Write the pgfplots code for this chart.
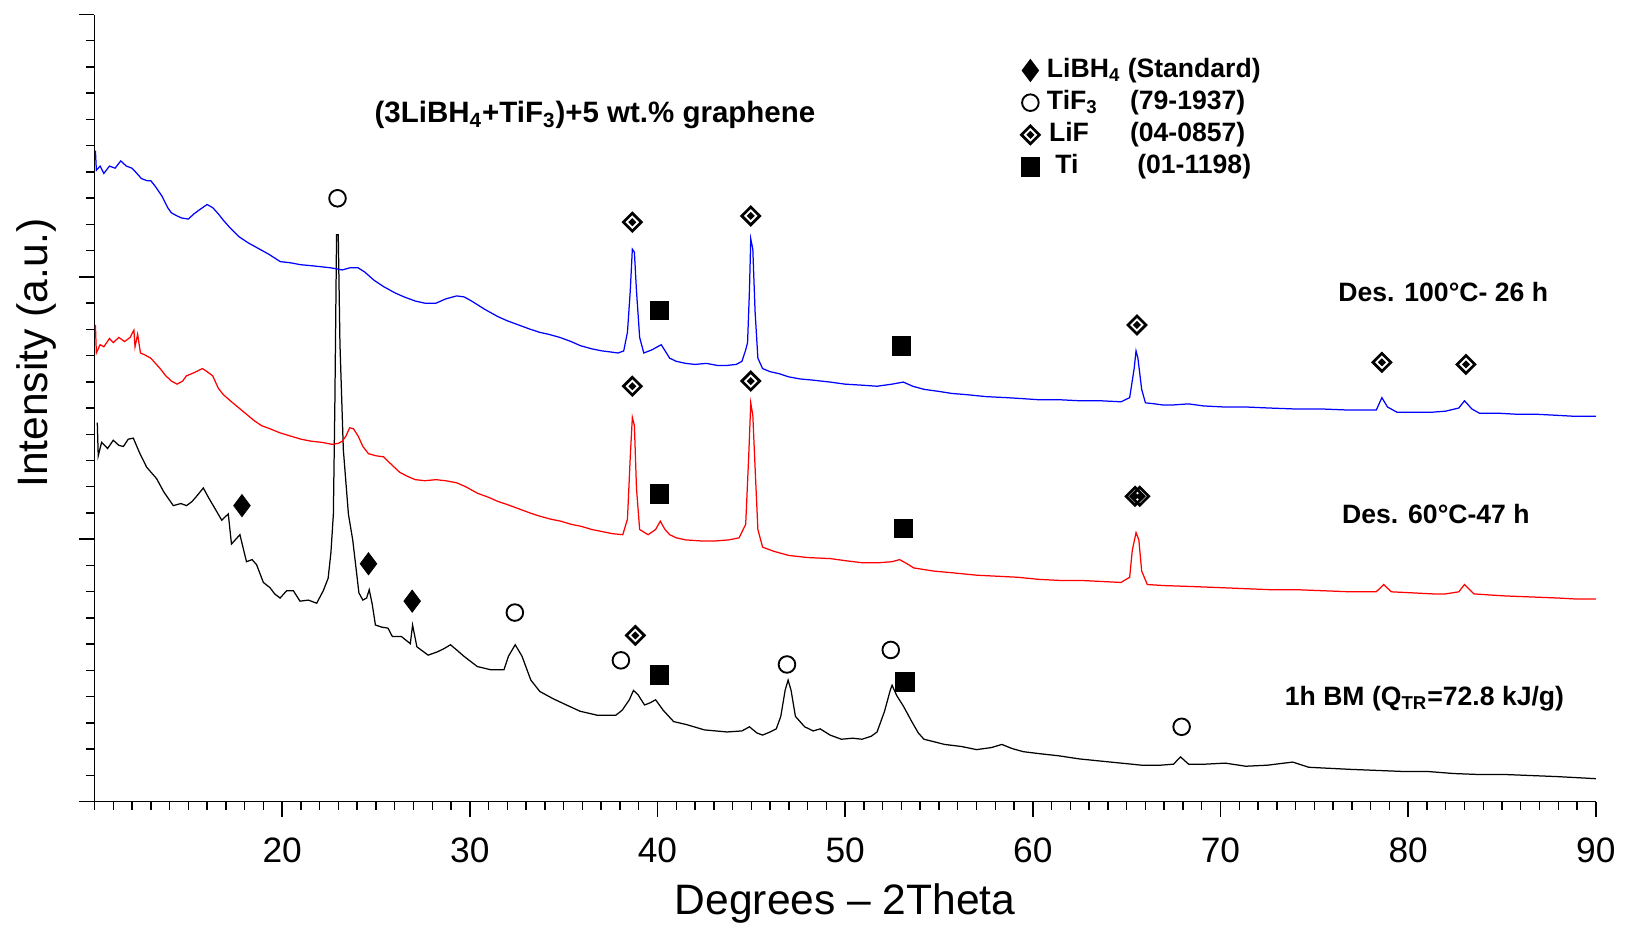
\documentclass[border=0pt]{standalone}
\usepackage{fontspec}
\setmainfont{Liberation Sans}
\usepackage{pgfplots}
\pgfplotsset{compat=1.18}
\pgfdeclareplotmark{lif}{%
  \pgfpathmoveto{\pgfqpoint{0pt}{\pgfplotmarksize}}%
  \pgfpathlineto{\pgfqpoint{\pgfplotmarksize}{0pt}}%
  \pgfpathlineto{\pgfqpoint{0pt}{-\pgfplotmarksize}}%
  \pgfpathlineto{\pgfqpoint{-\pgfplotmarksize}{0pt}}%
  \pgfpathclose
  \pgfusepathqstroke
  \pgfpathmoveto{\pgfqpoint{0pt}{0.45\pgfplotmarksize}}%
  \pgfpathlineto{\pgfqpoint{0.45\pgfplotmarksize}{0pt}}%
  \pgfpathlineto{\pgfqpoint{0pt}{-0.45\pgfplotmarksize}}%
  \pgfpathlineto{\pgfqpoint{-0.45\pgfplotmarksize}{0pt}}%
  \pgfpathclose
  \pgfusepathqfill
}
\pgfplotsset{lgmark/.style={legend image code/.code={\draw[##1] plot coordinates {(0cm,0cm)};}}}
\begin{document}
\begin{tikzpicture}
\begin{axis}[name=ax, scale only axis, width=723pt, height=379pt,
  xmin=10, xmax=90, ymin=0, ymax=758,
  axis lines*=left, tick align=outside,
  xtick={20,30,...,90}, minor xtick={10,11,...,90},
  ytick={0,252.667,505.333,758}, minor ytick={0,25.2667,...,758}, yticklabels={},
  major tick length=7.5pt, minor tick length=4pt,
  tick style={black, line width=0.7pt},
  axis line style={black, line width=0.8pt},
  ticklabel style={font=\fontsize{17}{17}\selectfont},
  /pgf/number format/assume math mode=true,
  xticklabel style={yshift=-6.5pt},
  xlabel={Degrees – 2Theta}, ylabel={Intensity (a.u.)},
  label style={font=\fontsize{20.5}{20.5}\selectfont},
  xlabel style={at={(axis description cs:0.5,-0.1438)}, anchor=base},
  ylabel style={at={(axis description cs:-0.0387,0.57)}, anchor=center},
  legend style={at={(axis cs:59.35,720)}, anchor=north west, draw=none, fill=none, inner sep=0pt,
    font=\bfseries\fontsize{12.8}{12.8}\selectfont, row sep=0pt, column sep=3pt,
    nodes={inner sep=0.5pt, text height=10.5pt, text depth=4pt}},
  legend cell align=left,
]
% 1h BM (black)
\addplot[black, line width=0.6pt, forget plot] coordinates {
(10.15,365) (10.2,333) (10.38,346) (10.7,340) (11.0,348) (11.3,343) (11.54,342) (11.8,349) (12.07,350) (12.4,336) (12.78,322) (13.31,311) (13.7,298) (14.2,285) (14.6,287) (14.91,285) (15.2,289) (15.44,294) (15.8,302) (16.1,292) (16.33,285) (16.78,271) (17.13,277) (17.3,248) (17.5,252) (17.75,257) (18.1,231) (18.4,233) (18.64,228) (19.0,211) (19.35,206) (19.6,200) (19.89,196) (20.24,203) (20.6,203) (20.95,193) (21.4,194) (21.84,191) (22.19,203) (22.45,215) (22.6,240) (22.73,277) (22.81,385) (22.9,546) (22.99,546) (23.08,441) (23.26,339) (23.53,277) (23.76,252) (24.0,215) (24.09,201) (24.3,194) (24.5,196) (24.64,204) (24.8,190) (24.97,170) (25.3,168) (25.64,167) (25.87,159) (26.35,159) (26.83,152) (26.95,170) (27.18,149) (27.78,141) (28.25,144) (28.6,147) (28.97,151) (29.3,146) (29.68,140) (30.4,130) (31.1,127) (31.82,127) (32.06,140) (32.42,151) (32.78,140) (33.25,117) (33.73,106) (34.44,99) (35.15,93) (35.87,87) (36.82,83) (37.77,83) (38.12,88) (38.5,98) (38.72,107) (38.96,103) (39.31,93) (39.6,95) (39.9,98) (40.3,88) (40.86,77) (41.57,74) (42.5,69) (43.71,67) (44.5,68) (44.9,72) (45.3,66) (45.6,64) (46.0,67) (46.33,70) (46.57,82) (46.8,107) (46.96,117) (47.12,107) (47.35,82) (47.84,72) (48.3,68) (48.67,70) (49.2,64) (49.8,60) (50.4,61) (50.9,60) (51.4,63) (51.7,67) (52.1,87) (52.4,107) (52.5,112) (52.75,102) (53.1,92) (53.55,77) (53.9,66) (54.2,60) (55.3,55) (56.2,53) (57.0,50) (57.8,52) (58.35,55) (58.9,51) (59.5,48) (60.4,46) (61.4,44) (62.5,41) (63.6,39) (64.7,37) (65.8,35) (66.8,35) (67.5,36) (67.87,43) (68.3,36) (69.2,36) (70.25,37) (71.35,34) (72.5,35) (73.85,38) (74.7,33) (75.8,32) (76.9,31) (78.3,30) (79.65,29) (81.0,29) (82.4,27) (83.8,26) (85.2,26) (86.6,25) (87.95,24) (89.0,23) (90,22)
};
% Des. 60C (red)
\addplot[red, line width=0.6pt, forget plot] coordinates {
(10.05,459) (10.1,432) (10.3,440) (10.5,438) (10.8,446) (11.0,442) (11.3,447) (11.6,443) (11.9,447) (12.1,454) (12.16,438) (12.3,450) (12.45,432) (12.7,430) (13.0,427) (13.25,422) (13.5,417) (13.8,410) (14.1,405) (14.4,402) (14.7,405) (14.9,410) (15.3,413) (15.75,417) (16.0,414) (16.3,410) (16.6,398) (16.86,392) (17.3,385) (17.7,379) (18.1,373) (18.5,367) (18.9,362) (19.35,359) (19.9,355) (20.45,352) (21.0,349) (21.56,347) (22.1,346) (22.67,344) (23.0,345) (23.2,347) (23.4,352) (23.6,360) (23.8,359) (24.05,352) (24.3,342) (24.6,335) (25.0,333) (25.4,332) (25.8,325) (26.27,317) (26.7,313) (27.1,310) (27.6,309) (28.2,310) (28.7,309) (29.3,307) (29.8,303) (30.4,297) (31.0,293) (31.5,289) (32.0,286) (32.6,282) (33.2,278) (33.7,275) (34.3,272) (34.85,270) (35.4,267) (35.95,265) (36.5,262) (37.05,260) (37.6,258) (38.15,257) (38.4,272) (38.55,332) (38.66,370) (38.77,362) (38.88,302) (39.05,262) (39.5,257) (39.9,262) (40.15,270) (40.4,262) (40.65,257) (41.0,254) (41.5,252) (42.3,251) (43.1,251) (43.8,252) (44.35,254) (44.7,267) (44.86,332) (44.97,384) (45.08,372) (45.2,322) (45.35,262) (45.6,245) (46.2,241) (47.0,237) (48.0,235) (49.2,234) (50.0,232) (50.9,230) (51.8,230) (52.5,231) (52.9,233) (53.3,229) (53.65,225) (54.7,222) (55.9,220) (57.0,218) (58.1,217) (59.2,216) (60.3,214) (61.4,213) (62.5,213) (63.6,212) (64.7,211) (65.16,216) (65.3,242) (65.5,259) (65.65,252) (65.8,222) (66.1,209) (67.0,208) (68.6,207) (70.0,206) (71.35,205) (72.7,204) (74.1,204) (75.5,203) (76.9,202) (77.8,202) (78.3,202) (78.7,209) (79.1,202) (80.2,201) (81.3,200) (82.0,200) (82.7,202) (83.0,209) (83.5,200) (84.3,199) (85.2,198) (86.6,197) (88.0,196) (89.0,195) (90,195)
};
% Des. 100C (blue)
\addplot[blue, line width=0.6pt, forget plot] coordinates {
(10.05,627) (10.1,608) (10.3,612) (10.5,605) (10.8,612) (11.1,610) (11.4,617) (11.7,612) (12.0,610) (12.16,607) (12.5,600) (12.8,598) (13.0,598) (13.26,592) (13.6,583) (13.9,572) (14.1,567) (14.4,564) (14.65,562) (15.0,561) (15.3,566) (15.6,570) (16.0,575) (16.3,572) (16.6,566) (16.86,560) (17.2,553) (17.7,544) (18.2,538) (18.8,532) (19.3,527) (19.9,520) (20.4,519) (21.0,517) (21.6,516) (22.1,515) (22.6,514) (23.2,512) (23.6,514) (24.05,514) (24.4,510) (24.9,502) (25.4,496) (26.0,490) (26.5,486) (27.1,482) (27.6,480) (28.2,480) (28.7,484) (29.3,487) (29.7,486) (30.1,482) (30.8,474) (31.5,467) (32.0,463) (32.6,459) (33.2,455) (33.7,452) (34.2,450) (34.8,447) (35.4,443) (35.9,439) (36.5,436) (37.05,434) (37.5,433) (37.9,432) (38.2,434) (38.4,452) (38.55,492) (38.66,532) (38.77,529) (38.88,492) (39.05,447) (39.27,432) (39.7,435) (40.2,440) (40.65,427) (41.0,424) (41.5,422) (42.0,421) (42.6,422) (43.2,420) (43.7,420) (44.2,421) (44.5,424) (44.7,435) (44.8,442) (44.9,492) (44.97,542) (45.08,532) (45.2,472) (45.35,427) (45.6,417) (46.0,414) (46.5,412) (47.0,409) (47.6,407) (48.2,406) (49.2,404) (50.0,402) (50.9,401) (51.7,400) (52.5,402) (53.1,404) (53.6,400) (54.2,397) (55.0,395) (55.7,393) (56.4,392) (57.5,390) (58.6,389) (59.5,388) (60.3,387) (61.4,387) (62.5,386) (63.6,386) (64.7,385) (65.16,389) (65.4,417) (65.5,434) (65.6,427) (65.8,397) (66.0,384) (66.5,383) (66.9,382) (67.5,382) (68.3,383) (69.1,381) (70.2,380) (71.35,380) (72.6,379) (74.1,378) (75.5,378) (76.9,377) (77.8,377) (78.3,377) (78.6,389) (78.9,380) (79.4,375) (80.3,375) (81.3,375) (82.0,376) (82.7,379) (83.0,386) (83.4,378) (83.8,374) (84.8,374) (85.8,373) (86.85,373) (87.9,372) (88.9,371) (90,371)
};
% phase markers
\addplot[only marks, mark=diamond*, mark size=5.3pt, black, lgmark] coordinates {(17.86,285) (24.6,229) (26.93,193)};
\addlegendentry{LiBH\textsubscript{4} (Standard)}
\addplot[only marks, mark=o, mark size=4pt, black, mark options={line width=0.9pt}, lgmark] coordinates {(22.95,581) (32.4,182) (38.05,136) (46.9,132) (52.43,146) (67.93,72)};
\addlegendentry{\makebox[40pt][l]{TiF\textsubscript{3}}(79-1937)}
\addplot[only marks, mark=lif, mark size=4.3pt, black, mark options={line width=1.3pt}, lgmark] coordinates {(38.66,558) (44.97,564) (65.55,459) (78.6,423) (83.08,421) (38.66,400) (44.97,405) (65.45,294) (65.7,294) (38.82,160)};
\addlegendentry{\hspace{1pt}\makebox[39pt][l]{LiF}(04-0857)}
\addplot[only marks, mark=square*, mark size=4.5pt, black, lgmark] coordinates {(40.1,473) (52.99,439) (40.1,296) (53.1,263) (40.1,122) (53.2,115)};
\addlegendentry{\hspace{4pt}\makebox[39.5pt][l]{Ti}(01-1198)}
% annotations
\node[font=\bfseries\fontsize{14.2}{14.2}\selectfont] at (axis cs:36.67,661) {(3LiBH\textsubscript{4}+TiF\textsubscript{3})+5 wt.\% graphene};
\node[font=\bfseries\fontsize{12.8}{12.8}\selectfont] at (axis cs:81.87,491) {Des. 100°C- 26 h};
\node[font=\bfseries\fontsize{12.8}{12.8}\selectfont] at (axis cs:81.48,277) {Des. 60°C-47 h};
\node[font=\bfseries\fontsize{12.8}{12.8}\selectfont] at (axis cs:80.87,99) {1h BM (Q\textsubscript{TR}=72.8 kJ/g)};
\end{axis}
\pgfresetboundingbox
\path ([shift={(-45.5pt,-60pt)}]ax.south west) rectangle ([shift={(15.5pt,7pt)}]ax.north east);
\end{tikzpicture}
\end{document}
